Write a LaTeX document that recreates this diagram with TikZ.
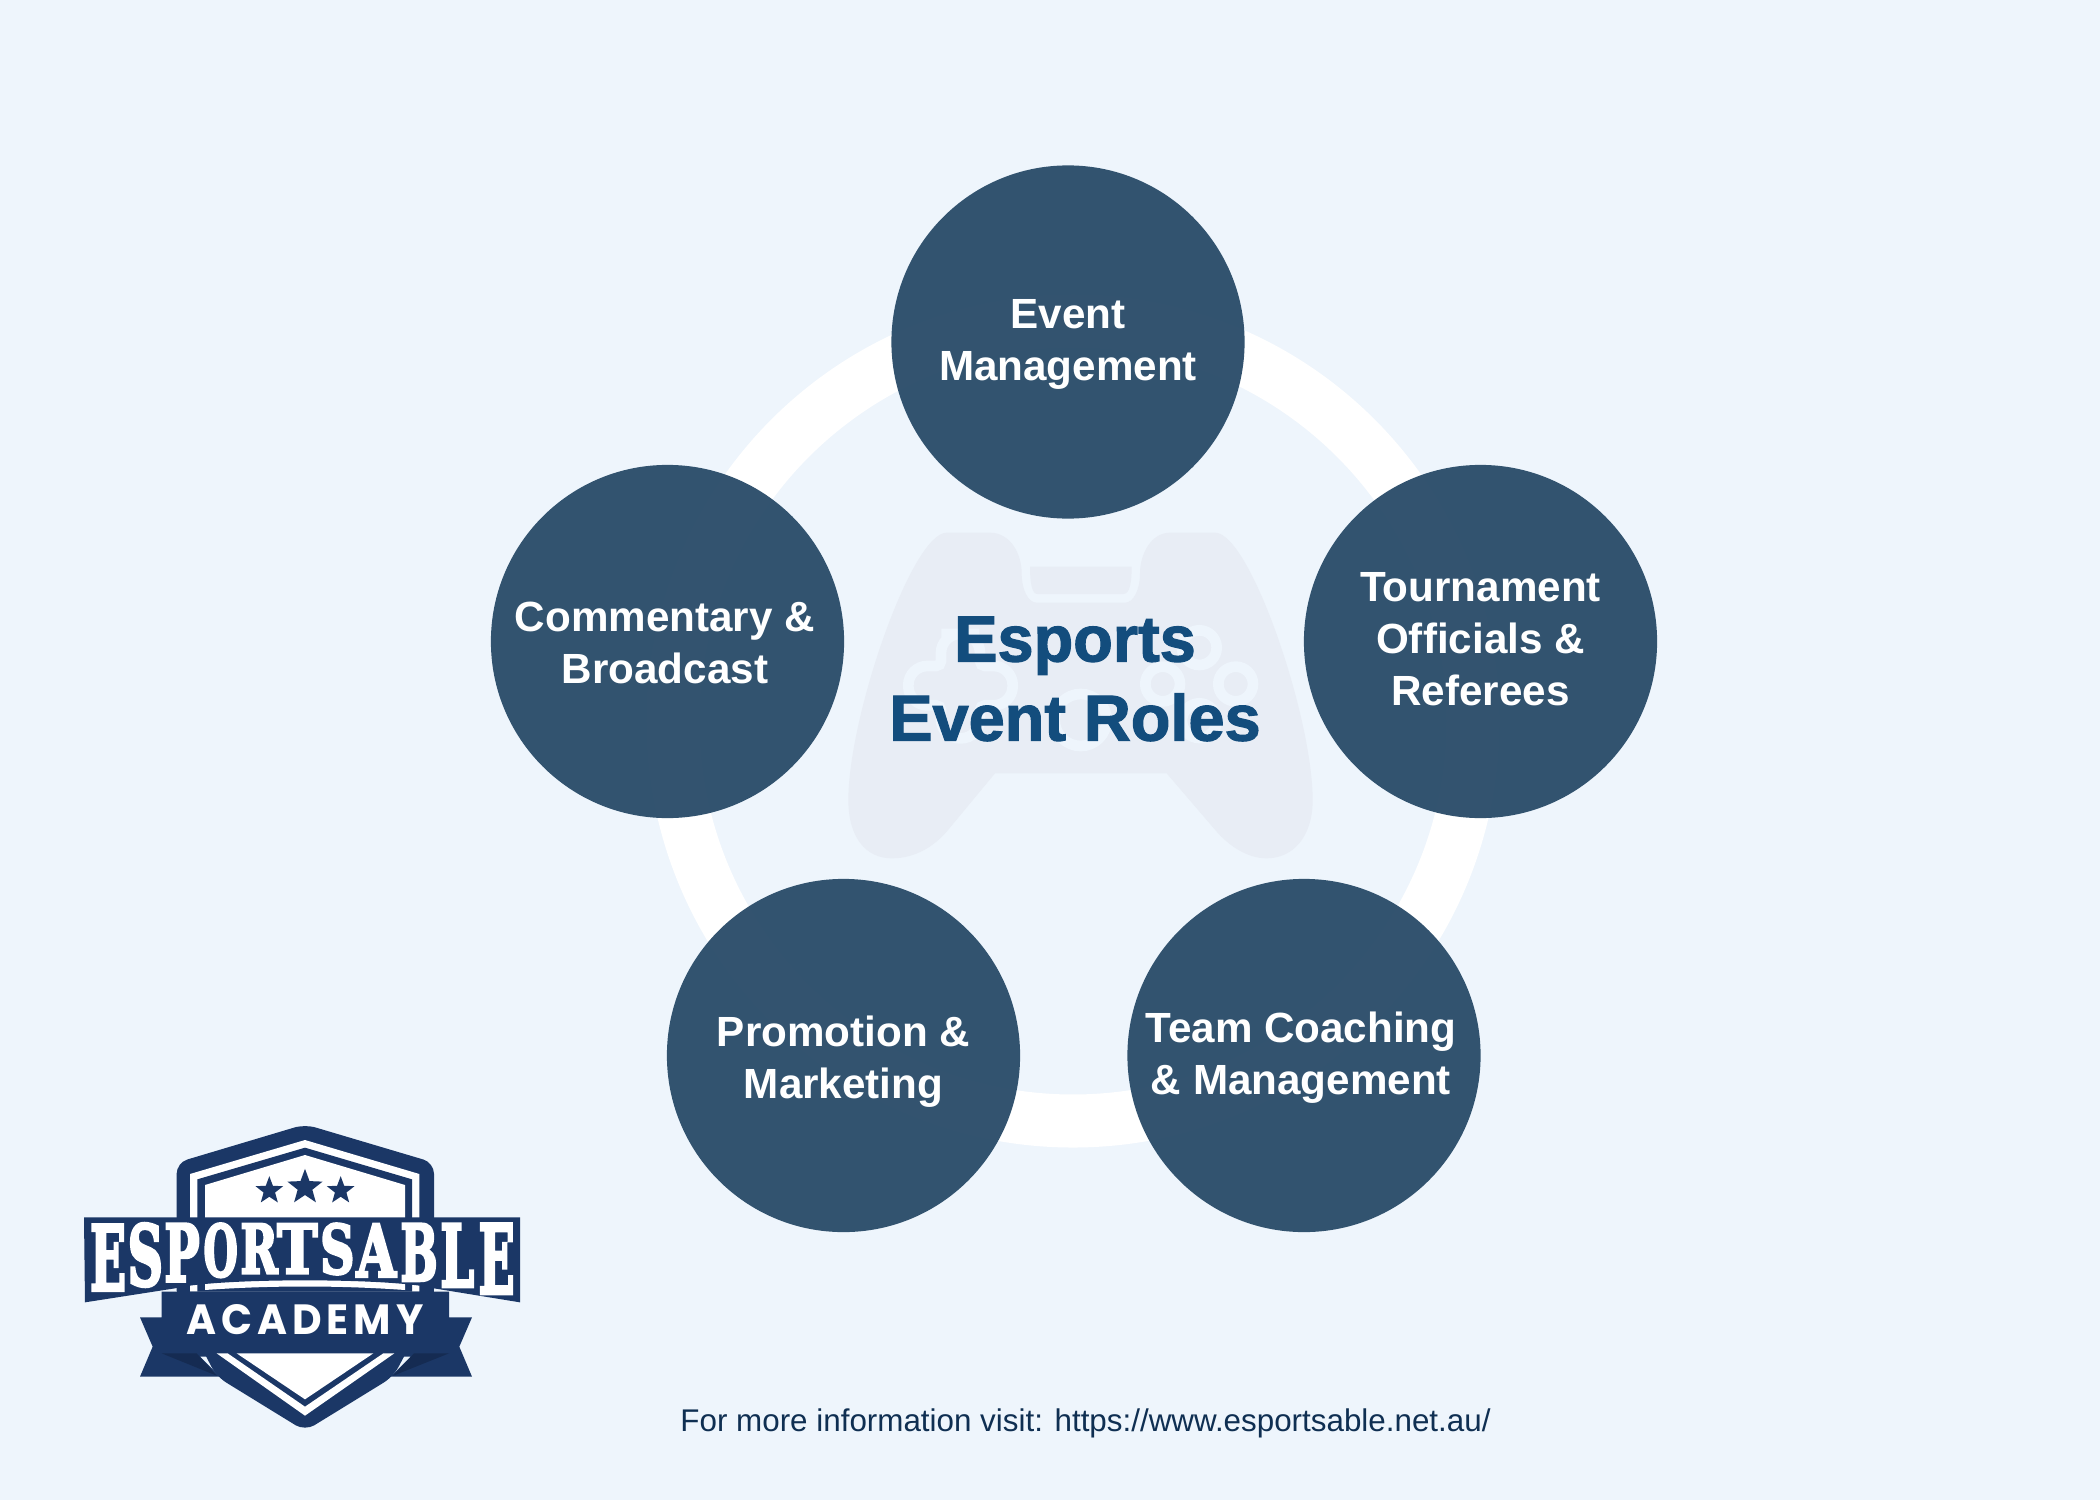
\documentclass[tikz,border=0pt]{standalone}
\usepackage{fontspec}
\setmainfont{Liberation Sans}
\newfontfamily\rolefont{Liberation Sans}[UprightFont = * Bold]
\newfontfamily\titlefont{Liberation Sans}[UprightFont = * Bold, FakeBold = 1.8]
\newfontfamily\footfont{Liberation Sans}
\newfontfamily\crestfont{DejaVu Serif}[UprightFont = * Bold, FakeBold = 4]
\newfontfamily\academyfont{Poppins}[UprightFont = * Bold, LetterSpace = 12]
\usetikzlibrary{shapes.geometric}
\definecolor{pagebg}{HTML}{EEF5FC}
\definecolor{rolefill}{HTML}{2B4D6A}
\definecolor{titleblue}{HTML}{134D7D}
\definecolor{padfill}{HTML}{E8EDF5}
\definecolor{crestnavy}{HTML}{1B3766}
\definecolor{crestdark}{HTML}{152B52}
\definecolor{footnavy}{HTML}{0F2F52}
\newlength{\crestunit}
\setlength{\crestunit}{0.03333mm}
\tikzset{
    role/.style = {circle, minimum size = 3.53cm, inner sep = 0pt, fill = rolefill,
        fill opacity = 0.96},
    roletext/.style = {text = white, align = center, inner sep = 0pt,
        font = \rolefont\fontsize{12}{14.8}\selectfont},
    padline/.style = {draw = pagebg, line width = 1.07mm},
    crestletter/.style = {inner sep = 0pt, text = white},
    crestfill/.style = {fill = crestnavy},
    whitefill/.style = {fill = white}
}
\begin{document}
\begin{tikzpicture}[x = 0.01cm, y = -0.01cm]
        \fill[pagebg] (0, 0) rectangle (2100, 1500);
        \draw[white, line width = 5.3mm] (1073, 721) circle [radius = 400];
        \begin{scope}[shift = {(820, 510)}, scale = 1/3]
            \fill[padfill] (380, 68) -- (510, 68)
                .. controls (570, 68) and (605, 130) .. (605, 190)
                .. controls (605, 240) and (625, 278) .. (650, 278) -- (915, 278)
                .. controls (940, 278) and (960, 240) .. (960, 190)
                .. controls (960, 130) and (995, 68) .. (1050, 68) -- (1185, 68)
                .. controls (1290, 68) and (1478, 620) .. (1478, 870)
                .. controls (1478, 985) and (1415, 1045) .. (1340, 1045)
                .. controls (1280, 1045) and (1225, 1005) .. (1190, 965)
                -- (1040, 790) -- (525, 790) -- (380, 965)
                .. controls (345, 1005) and (290, 1045) .. (215, 1045)
                .. controls (140, 1045) and (85, 985) .. (85, 870)
                .. controls (85, 620) and (275, 68) .. (380, 68) -- cycle;
            \fill[padfill] (630, 170) -- (935, 170)
                .. controls (935, 215) and (930, 252) .. (910, 252) -- (652, 252)
                .. controls (635, 252) and (630, 215) .. (630, 170) -- cycle;
            \draw[padline] (421, 372) [rounded corners = 1.9mm] -- (480, 372)
                [rounded corners = 0.5mm] -- (480, 468)
                [rounded corners = 1.9mm] -- (578, 468) -- (578, 586)
                [rounded corners = 0.5mm] -- (480, 586)
                [rounded corners = 1.9mm] -- (480, 685) -- (363, 685)
                [rounded corners = 0.5mm] -- (363, 586)
                [rounded corners = 1.9mm] -- (265, 586) -- (265, 468)
                [rounded corners = 0.5mm] -- (363, 468)
                [rounded corners = 1.9mm] -- (363, 372) -- cycle;
            \draw[padline] (1138, 413) circle [radius = 52];
            \draw[padline] (1028, 522) circle [radius = 52];
            \draw[padline] (1247, 522) circle [radius = 52];
            \draw[padline] (1138, 632) circle [radius = 52];
            \draw[padline] (782, 630) circle [radius = 78];
        \end{scope}
        \node[role] at (1068, 342) (event) {};
        \node[role] at (1480.5, 641.5) (tournament) {};
        \node[role] at (1304, 1055.5) (coaching) {};
        \node[role] at (843.5, 1055.5) (promotion) {};
        \node[role] at (667.5, 641.5) (commentary) {};
        \node[roletext] at (1068, 344.5) (event_text) {Event\\Management};
        \node[roletext] at (1480.5, 639) (tournament_text) {Tournament\\Officials \&\\Referees};
        \node[roletext] at (1301, 1058) (coaching_text) {Team Coaching\\\& Management};
        \node[roletext] at (843.5, 1062) (promotion_text) {Promotion \&\\Marketing};
        \node[roletext] at (665, 643) (commentary_text) {Commentary \&\\Broadcast};
        \node[text = titleblue, align = center, font = \titlefont\fontsize{18.45}{22.5}\selectfont]
            at (1075, 679) (title) {Esports\\Event Roles};
        \node[text = footnavy, font = \footfont\fontsize{8.92}{10}\selectfont]
            at (1085.5, 1423) (footer) {For more information visit: https://www.esportsable.net.au/};
        \begin{scope}[shift = {(60, 1100)}, scale = 1/3]
            \fill[crestfill, rounded corners = 1.1mm] (735, 73) -- (1122, 188) -- (1122, 600)
                -- (1000, 830) -- (735, 993) -- (470, 830) -- (350, 600)
                -- (350, 188) -- cycle;
            \fill[whitefill] (735, 120) -- (1078, 222) -- (1078, 575)
                -- (390, 575) -- (390, 222) -- cycle;
            \fill[crestfill] (735, 143) -- (1056, 238) -- (1056, 575)
                -- (412, 575) -- (412, 238) -- cycle;
            \fill[whitefill] (735, 165) -- (1035, 255) -- (1035, 570)
                .. controls (840, 556) and (630, 556) .. (435, 570) -- (435, 255) -- cycle;
            \foreach \sx/\sy/\ssize/\sname in {628/272/2.9/starleft, 735/262/3.7/starmid, 842/272/2.9/starright}
                \node[star, star points = 5, star point ratio = 2.4, fill = crestnavy,
                    inner sep = 0pt, minimum size = \ssize mm] at (\sx, \sy) (\sname) {};
            \fill[crestfill] (305, 575) -- (1167, 575) -- (1167, 652) -- (1236, 652)
                -- (1198, 740) -- (1236, 830) -- (992, 830) -- (1052, 770) -- (420, 770)
                -- (480, 830) -- (240, 830) -- (278, 740) -- (240, 652) -- (305, 652) -- cycle;
            \fill[crestdark] (305, 760) -- (410, 760) -- (470, 827) -- cycle;
            \fill[crestdark] (1167, 760) -- (1062, 760) -- (1000, 827) -- cycle;
            \fill[whitefill] (530, 760) -- (940, 760) -- (735, 898) -- cycle;
            \fill[whitefill] (470, 760) -- (503, 760) -- (735, 920) -- (970, 760)
                -- (1003, 760) -- (735, 947) -- cycle;
            \fill[crestfill] (72, 352) -- (1380, 352) -- (1380, 607) -- (1122, 565)
                .. controls (1000, 533) and (470, 533) .. (345, 565) -- (75, 607) -- cycle;
            \foreach \lx/\ly/\lw/\lh/\lc/\lname in {
                    144/473/108/196/E/letterone, 256/465/106/186/S/lettertwo,
                    366/458/106/172/P/letterthree, 482/451/103/158/O/letterfour,
                    597/446/112/148/R/letterfive, 712/446/122/148/T/lettersix,
                    832/447/103/150/S/letterseven, 949/451/118/158/A/lettereight,
                    1077/457/112/170/B/letternine, 1192/466/102/188/L/letterten,
                    1310/476/108/208/E/lettereleven}
                \node[crestletter] at (\lx, \ly) (\lname)
                    {\resizebox{\lw\crestunit}{\lh\crestunit}{\crestfont\lc}};
            \node[crestletter] at (735, 660) (academy)
                {\resizebox{710\crestunit}{90\crestunit}{\academyfont ACADEMY}};
        \end{scope}
    \end{tikzpicture}
\end{document}
